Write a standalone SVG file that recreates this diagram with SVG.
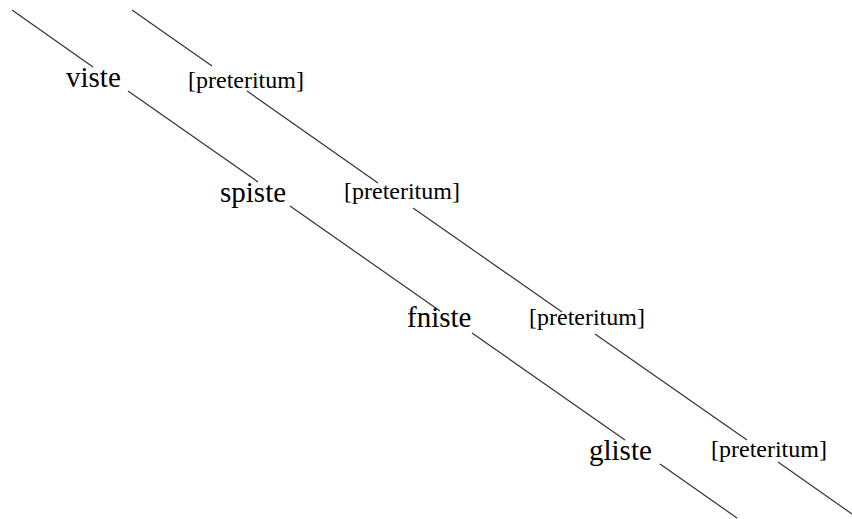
<svg xmlns="http://www.w3.org/2000/svg" width="852" height="519" viewBox="0 0 852 519">
<style>
text{font-family:'Liberation Serif','Times New Roman',serif;fill:#000}
.w{font-size:29px}
.p{font-size:24px}
.c line{stroke:#333;stroke-width:1.2}
</style>
<rect width="852" height="519" fill="#fff"/>
<g class="c" id="connectors">
<line x1="12" y1="10" x2="93" y2="67"/>
<line x1="128" y1="91" x2="258" y2="182"/>
<line x1="290" y1="206" x2="440" y2="311"/>
<line x1="472" y1="333" x2="625" y2="440"/>
<line x1="660" y1="464" x2="737" y2="518"/>
<line x1="132" y1="10" x2="212" y2="66"/>
<line x1="247" y1="91" x2="378" y2="183"/>
<line x1="413" y1="208" x2="562" y2="312"/>
<line x1="595" y1="334" x2="747" y2="440"/>
<line x1="778" y1="462" x2="852" y2="514"/>
</g>
<g id="n1"><text class="w" x="66" y="87">viste</text></g>
<g id="n2"><text class="p" x="188" y="88">[preteritum]</text></g>
<g id="n3"><text class="w" x="220" y="202">spiste</text></g>
<g id="n4"><text class="p" x="344" y="199">[preteritum]</text></g>
<g id="n5"><text class="w" x="407" y="327">fniste</text></g>
<g id="n6"><text class="p" x="529" y="325">[preteritum]</text></g>
<g id="n7"><text class="w" x="589" y="460">gliste</text></g>
<g id="n8"><text class="p" x="711" y="457">[preteritum]</text></g>
</svg>
